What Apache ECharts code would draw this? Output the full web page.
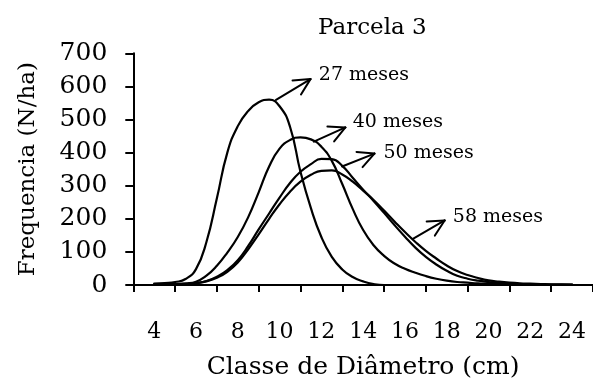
<!DOCTYPE html>
<html>
<head>
<meta charset="utf-8">
<script src="https://cdn.jsdelivr.net/npm/echarts@6/dist/echarts.min.js"></script>
<style>
  html, body { margin: 0; padding: 0; background: #fff; }
  #chart { width: 593px; height: 385px; }
</style>
</head>
<body>
<div id="chart"></div>
<script>
// Diameter classes shown on the axis (cm)
const diameterClasses = ['4', '6', '8', '10', '12', '14', '16', '18', '20', '22', '24'];

// Diameter points of the fitted curves (cm)
const diameter = [4, 4.5, 5, 5.5, 6, 6.5, 7, 7.5, 8, 8.5, 9, 9.5, 10, 10.5, 11, 11.5, 12, 12.5, 13, 13.5,
  14, 14.5, 15, 15.5, 16, 16.5, 17, 17.5, 18, 18.5, 19, 19.5, 20, 20.5, 21, 21.5, 22, 22.5, 23, 23.5, 24];

// Frequency (N/ha) per age
const meses27 = [4, 6, 9, 18, 48, 130, 262, 400, 480, 526, 552, 560, 540, 478, 342, 232, 145, 85, 47, 24,
  11, 3, 0, 0, 0, 0, 0, 0, 0, 0, 0, 0, 0, 0, 0, 0, 0, 0, 0, 0, 0];
const meses40 = [1, 2, 3, 5, 10, 28, 58, 98, 145, 205, 280, 358, 412, 438, 446, 440, 418, 375, 305, 230,
  166, 120, 88, 65, 49, 37, 27, 19, 13, 9, 7, 5, 4, 3, 2, 1, 1, 0, 0, 0, 0];
const meses50 = [1, 1, 2, 3, 6, 12, 25, 45, 75, 118, 168, 216, 264, 308, 342, 365, 381, 380, 360, 324,
  288, 254, 218, 181, 146, 113, 85, 62, 43, 28, 19, 13, 9, 6, 4, 3, 2, 1, 1, 1, 1];
const meses58 = [1, 1, 2, 3, 5, 11, 22, 40, 68, 108, 153, 200, 244, 282, 312, 333, 345, 346, 334, 312,
  285, 257, 225, 192, 160, 130, 103, 80, 59, 42, 30, 21, 14, 10, 7, 5, 4, 3, 2, 2, 1];

const yTicks = [0, 100, 200, 300, 400, 500, 600, 700];

// Curve labels with their pointer arrows, in data units
const ageLabels = ['27 meses', '40 meses', '50 meses', '58 meses'];
const arrowFrom = [[9.83, 559], [11.64, 433], [12.99, 358], [16.40, 140]];
const arrowTo = [[11.48, 622], [13.15, 476], [14.54, 397], [17.90, 195]];
const labelAt = [[11.88, 613], [13.50, 471], [14.97, 379], [18.29, 185]];

const FONT = "'DejaVu Serif', 'Liberation Serif', serif";
const INK = '#000';

const chart = echarts.init(document.getElementById('chart'));

function curve(values) {
  return diameter.map((d, i) => [d, values[i]]);
}

function lineSeries(name, values) {
  return {
    name: name,
    type: 'line',
    xAxisIndex: 1,
    yAxisIndex: 0,
    data: curve(values),
    smooth: 0.5,
    showSymbol: false,
    symbol: 'none',
    clip: false,
    lineStyle: { color: INK, width: 2.2, join: 'round', cap: 'round' },
    emphasis: { disabled: true },
    z: 3
  };
}

chart.setOption({
  animation: false,
  backgroundColor: '#fff',
  title: {
    text: 'Parcela 3',
    left: 318,
    top: 17,
    padding: 0,
    textStyle: { fontFamily: FONT, fontSize: 23, fontWeight: 'normal', color: INK }
  },
  grid: { left: 133.3, right: -3.1, top: 53.3, bottom: 91.5, containLabel: false },
  xAxis: [
    {
      type: 'category',
      data: diameterClasses,
      boundaryGap: true,
      position: 'bottom',
      axisLine: { show: true, lineStyle: { color: INK, width: 2 } },
      axisTick: { show: true, inside: false, length: 7, alignWithLabel: false, lineStyle: { color: INK, width: 2 } },
      axisLabel: { fontFamily: FONT, fontSize: 22, color: INK, margin: 36, interval: 0 },
      splitLine: { show: false },
      name: 'Classe de Diâmetro (cm)',
      nameLocation: 'middle',
      nameGap: 70,
      nameTextStyle: { fontFamily: FONT, fontSize: 25, color: INK }
    },
    {
      type: 'value',
      min: 3,
      max: 25,
      show: false,
      position: 'bottom'
    }
  ],
  yAxis: {
    type: 'value',
    min: yTicks[0],
    max: yTicks[yTicks.length - 1],
    interval: 100,
    axisLine: { show: true, lineStyle: { color: INK, width: 2 } },
    axisTick: { show: true, inside: false, length: 8, lineStyle: { color: INK, width: 2 } },
    axisLabel: { fontFamily: FONT, fontSize: 25, color: INK, margin: 26 },
    splitLine: { show: false },
    name: 'Frequencia (N/ha)',
    nameLocation: 'middle',
    nameGap: 94,
    nameTextStyle: { fontFamily: FONT, fontSize: 23, color: INK }
  },
  series: [
    lineSeries('27 meses', meses27),
    lineSeries('40 meses', meses40),
    lineSeries('50 meses', meses50),
    lineSeries('58 meses', meses58)
  ]
});

// Pointer arrows with open heads and the age labels
const ARM = 18;
const SPREAD = 27 * Math.PI / 180;
const toPx = (p) => chart.convertToPixel({ xAxisIndex: 1, yAxisIndex: 0 }, p);
const graphics = [];
ageLabels.forEach((label, i) => {
  const a = toPx(arrowFrom[i]);
  const b = toPx(arrowTo[i]);
  const back = Math.atan2(a[1] - b[1], a[0] - b[0]);
  const line = { stroke: INK, lineWidth: 2, lineCap: 'round' };
  graphics.push({ type: 'line', shape: { x1: a[0], y1: a[1], x2: b[0], y2: b[1] }, style: line, z: 10 });
  [back + SPREAD, back - SPREAD].forEach((ang) => {
    graphics.push({
      type: 'line',
      shape: { x1: b[0], y1: b[1], x2: b[0] + ARM * Math.cos(ang), y2: b[1] + ARM * Math.sin(ang) },
      style: line,
      z: 10
    });
  });
  const t = toPx(labelAt[i]);
  graphics.push({
    type: 'text',
    x: t[0],
    y: t[1] - 6.6,
    style: { text: label, font: '19px ' + FONT, fill: INK, textAlign: 'left', textVerticalAlign: 'middle', verticalAlign: 'middle' },
    z: 10
  });
});
chart.setOption({ graphic: graphics });
</script>
</body>
</html>
